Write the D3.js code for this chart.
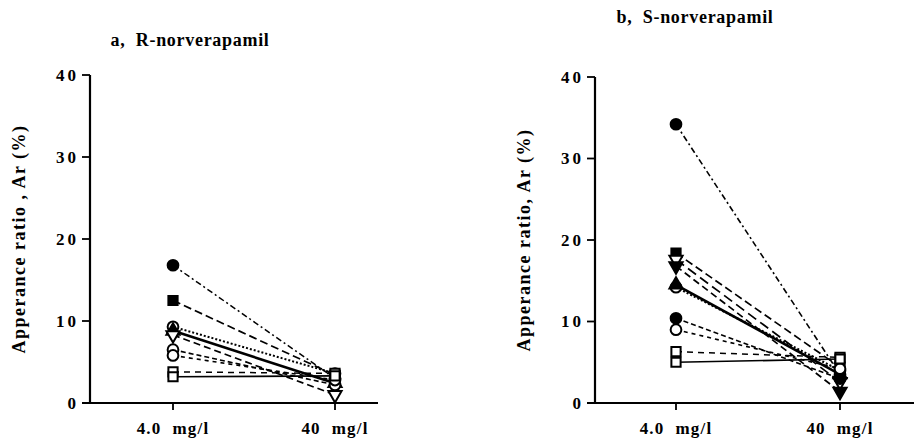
<!DOCTYPE html>
<html><head><meta charset="utf-8">
<script src="https://cdn.jsdelivr.net/npm/d3@7"></script>
<style>body{margin:0;background:#fff}svg{display:block}text{font-family:"Liberation Serif","DejaVu Serif",serif;font-weight:bold;fill:#000}</style>
</head><body><svg id="c" width="914" height="439"></svg>
<script>
const categories = ["4.0  mg/l", "40  mg/l"];
const yTicks = [0, 10, 20, 30, 40];
const titles = ["a,  R-norverapamil", "b,  S-norverapamil"];
const yLabels = ["Apperance ratio , Ar (%)", "Apperance ratio, Ar (%)"];
// Panel a (R-norverapamil)
const aLow  = [16.8, 12.5, 9.3, 8.8, 8.3, 6.5, 5.8, 3.8, 3.2];
const aHigh = [3.0, 3.4, 3.6, 2.4, 1.0, 2.2, 2.8, 3.6, 3.3];
// Panel b (S-norverapamil)
const bLow  = [34.2, 18.4, 17.6, 16.8, 14.2, 14.5, 10.4, 9.0, 6.3, 5.0];
const bHigh = [3.5, 4.4, 2.6, 1.4, 4.0, 3.5, 3.0, 4.2, 5.6, 5.4];

const svg = d3.select("#c");
const stylesA = [
  {m:"circle", fill:true, dash:"6,3,2,3", w:1.5},
  {m:"square", fill:true, dash:"8,4", w:1.7},
  {m:"circle", fill:false, dash:"2,2", w:2},
  {m:"triangle", fill:true, dash:null, w:2.6},
  {m:"down", fill:false, dash:"7,4", w:1.7},
  {m:"circle", fill:false, dash:"5,3", w:1.6},
  {m:"circle", fill:false, dash:"4,4", w:1.6},
  {m:"square", fill:false, dash:"6,5", w:1.5},
  {m:"square", fill:false, dash:null, w:1.7}
];
const stylesB = [
  {m:"circle", fill:true, dash:"6,3,2,3", w:1.6},
  {m:"square", fill:true, dash:"8,4", w:1.7},
  {m:"down", fill:false, dash:"10,5", w:1.7},
  {m:"down", fill:true, dash:"7,4", w:1.7},
  {m:"circle", fill:false, dash:"2,2", w:2.2},
  {m:"triangle", fill:true, dash:null, w:2.6},
  {m:"circle", fill:true, dash:"5,3", w:1.6},
  {m:"circle", fill:false, dash:"4,4", w:1.6},
  {m:"square", fill:false, dash:"6,5", w:1.5},
  {m:"square", fill:false, dash:null, w:1.7}
];

function panel(o) {
  const y = d3.scaleLinear().domain([0, 40]).range([o.y0, o.y40]);
  const x = d3.scalePoint().domain(categories).range([o.xc0, o.xc1]);
  const g = svg.append("g");
  g.append("line").attr("x1", o.ax).attr("x2", o.ax).attr("y1", y(40)).attr("y2", y(0)+1)
    .attr("stroke", "#000").attr("stroke-width", 2.2);
  g.append("line").attr("x1", o.ax-8).attr("x2", o.xEnd).attr("y1", y(0)).attr("y2", y(0))
    .attr("stroke", "#000").attr("stroke-width", 2.2);
  yTicks.forEach(t => {
    if (t > 0) g.append("line").attr("x1", o.ax-8).attr("x2", o.ax).attr("y1", y(t)).attr("y2", y(t))
      .attr("stroke", "#000").attr("stroke-width", 1.8);
    g.append("text").attr("x", o.ax-11).attr("y", y(t)).attr("dy", "0.35em").attr("text-anchor", "end")
      .attr("font-size", 17).attr("letter-spacing", "3px").text(t);
  });
  categories.forEach(c => {
    g.append("line").attr("x1", x(c)).attr("x2", x(c)).attr("y1", y(0)).attr("y2", y(0)+7)
      .attr("stroke", "#000").attr("stroke-width", 1.8);
    g.append("text").attr("x", x(c)).attr("y", y(0)+31).attr("text-anchor", "middle")
      .attr("font-size", 17).attr("letter-spacing", "1.2px").style("white-space", "pre").text(c);
  });
  g.append("text").attr("x", o.tx).attr("y", o.ty).attr("text-anchor", "middle")
    .attr("font-size", 18).attr("letter-spacing", "0.7px").style("white-space", "pre").text(o.title);
  g.append("text").attr("transform", `translate(${o.lx},${(y(0)+y(40))/2})} rotate(-90)`.replace("}", ""))
    .attr("text-anchor", "middle").attr("font-size", 18).attr("letter-spacing", "1.5px").text(o.ylabel);
  o.low.forEach((v, i) => {
    const s = o.styles[i];
    const pts = [[x(categories[0]), y(v)], [x(categories[1]), y(o.high[i])]];
    g.append("path").attr("d", d3.line()(pts)).attr("fill", "none").attr("stroke", "#000")
      .attr("stroke-width", s.w).attr("stroke-dasharray", s.dash);
    pts.forEach(p => {
      const type = s.m === "circle" ? d3.symbolCircle : s.m === "square" ? d3.symbolSquare : d3.symbolTriangle;
      const size = s.m === "square" ? 85 : s.m === "circle" ? 90 : 75;
      g.append("path").attr("d", d3.symbol(type, size)())
        .attr("transform", `translate(${p[0]},${p[1]})${s.m === "down" ? " rotate(180)" : ""}`)
        .attr("fill", s.fill ? "#000" : "#fff").attr("stroke", "#000").attr("stroke-width", 2);
    });
  });
}

panel({ax: 90, xEnd: 378, y0: 403, y40: 75, xc0: 173, xc1: 335, low: aLow, high: aHigh, styles: stylesA,
  title: titles[0], tx: 190, ty: 46, ylabel: yLabels[0], lx: 25});
panel({ax: 595, xEnd: 914, y0: 403, y40: 77, xc0: 676, xc1: 840, low: bLow, high: bHigh, styles: stylesB,
  title: titles[1], tx: 695, ty: 23, ylabel: yLabels[1], lx: 530});
</script></body></html>
